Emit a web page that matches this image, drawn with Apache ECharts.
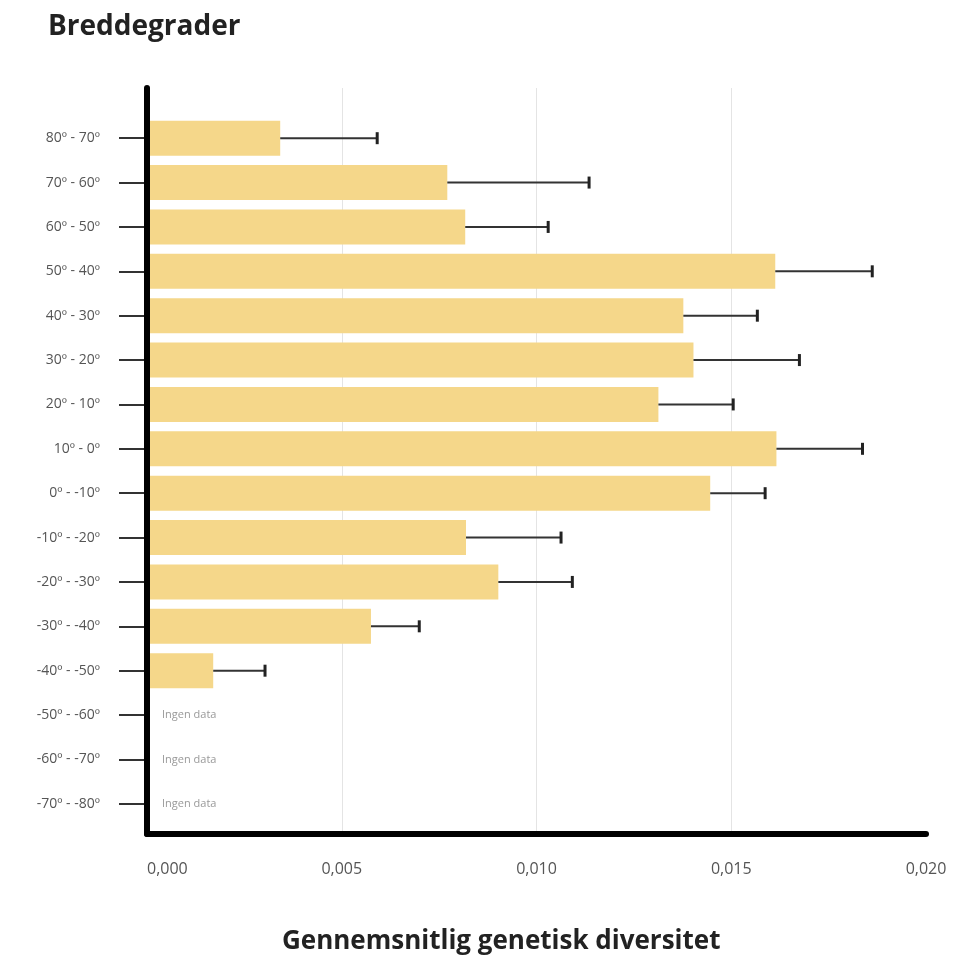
<!DOCTYPE html>
<html>
<head>
<meta charset="utf-8">
<script src="https://cdn.jsdelivr.net/npm/echarts@6/dist/echarts.min.js"></script>
<style>
  html, body { margin: 0; padding: 0; background: #fff; }
  #chart { width: 976px; height: 960px; }
</style>
</head>
<body>
<div id="chart"></div>
<script>
// Latitude bands, north to south
const categories = [
  '80º - 70º', '70º - 60º', '60º - 50º', '50º - 40º', '40º - 30º', '30º - 20º',
  '20º - 10º', '10º - 0º', '0º - -10º', '-10º - -20º', '-20º - -30º', '-30º - -40º',
  '-40º - -50º', '-50º - -60º', '-60º - -70º', '-70º - -80º'
];
// Mean genetic diversity per band (null = no data)
const meanDiversity = [
  0.00342, 0.00771, 0.00817, 0.01613, 0.01377, 0.01403,
  0.01313, 0.01616, 0.01446, 0.00819, 0.00902, 0.00575,
  0.00170, null, null, null
];
// Upper error (added to the mean)
const upperError = [
  0.00249, 0.00364, 0.00213, 0.00249, 0.00190, 0.00272,
  0.00192, 0.00221, 0.00141, 0.00244, 0.00190, 0.00124,
  0.00133, null, null, null
];
const xTicks = { min: 0, max: 0.020, interval: 0.005 };
const noDataText = 'Ingen data';

const errorData = [];
const noData = [];
meanDiversity.forEach((v, i) => {
  if (v == null) noData.push([0, i]);
  else errorData.push([v, i, upperError[i]]);
});

const chart = echarts.init(document.getElementById('chart'), null, { renderer: 'canvas' });
const fontFamily = '"Open Sans", "Noto Sans", sans-serif';

chart.setOption({
  backgroundColor: '#ffffff',
  animation: false,
  textStyle: { fontFamily },
  title: [
    {
      text: 'Breddegrader', left: 43, top: 8,
      textStyle: { fontSize: 28, fontWeight: 'bold', color: '#222', fontFamily }
    },
    {
      text: 'Gennemsnitlig genetisk diversitet', left: 277, top: 924,
      textStyle: { fontSize: 26, fontWeight: 'bold', color: '#222', fontFamily }
    }
  ],
  grid: [
    // frame: axis lines and vertical gridlines
    { left: 147, right: 50, top: 88, bottom: 126 },
    // data area: one band per latitude range
    { left: 147, right: 50, top: 116, bottom: 134 }
  ],
  xAxis: [
    {
      gridIndex: 0, type: 'value', min: xTicks.min, max: xTicks.max, interval: xTicks.interval,
      axisLine: { show: true, lineStyle: { color: '#000', width: 6 } },
      axisTick: { show: false },
      axisLabel: {
        margin: 27, fontSize: 16, color: '#555', fontFamily,
        alignMinLabel: 'left',
        formatter: v => v.toFixed(3).replace('.', ',')
      },
      splitLine: { show: true, showMinLine: false, showMaxLine: false, lineStyle: { color: '#e4e4e4', width: 1 } }
    },
    {
      gridIndex: 1, type: 'value', min: xTicks.min, max: xTicks.max, show: false
    }
  ],
  yAxis: [
    {
      gridIndex: 0, type: 'value', min: 0, max: 1, z: 5,
      axisLine: { show: true, lineStyle: { color: '#000', width: 6 } },
      axisTick: { show: false }, axisLabel: { show: false }, splitLine: { show: false }
    },
    {
      gridIndex: 1, type: 'category', data: categories, inverse: true,
      axisLine: { show: false },
      axisTick: { show: true, alignWithLabel: true, length: 28, lineStyle: { color: '#333', width: 2 } },
      axisLabel: { margin: 47, fontSize: 14, color: '#555', fontFamily },
      splitLine: { show: false }
    }
  ],
  series: [
    {
      type: 'bar', xAxisIndex: 1, yAxisIndex: 1,
      data: meanDiversity,
      barWidth: 35,
      itemStyle: { color: '#f5d78a' },
      z: 2
    },
    {
      type: 'custom', xAxisIndex: 1, yAxisIndex: 1,
      data: errorData,
      z: 3,
      renderItem: (params, api) => {
        const v = api.value(0), i = api.value(1), e = api.value(2);
        const start = api.coord([v, i]);
        const end = api.coord([v + e, i]);
        return {
          type: 'group',
          children: [
            { type: 'line', shape: { x1: start[0], y1: start[1], x2: end[0], y2: end[1] },
              style: { stroke: '#333', lineWidth: 2 } },
            { type: 'line', shape: { x1: end[0], y1: end[1] - 6, x2: end[0], y2: end[1] + 6 },
              style: { stroke: '#222', lineWidth: 3 } }
          ]
        };
      }
    },
    {
      type: 'custom', xAxisIndex: 1, yAxisIndex: 1,
      data: noData,
      z: 3,
      renderItem: (params, api) => {
        const p = api.coord([api.value(0), api.value(1)]);
        return {
          type: 'text',
          x: p[0] + 15, y: p[1],
          style: { text: noDataText, fill: '#999', fontSize: 11, fontFamily, verticalAlign: 'middle' }
        };
      }
    }
  ]
});
</script>
</body>
</html>
